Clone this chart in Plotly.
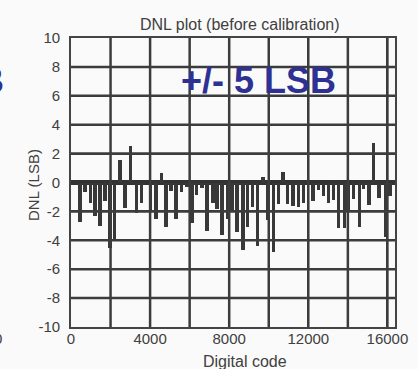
import plotly.graph_objects as go

# Digital code positions and DNL values (LSB)
codes = [456, 709, 1000, 1215, 1468, 1720, 1975, 2195, 2480, 2734, 3020, 3325, 3580,
         4030, 4300, 4590, 4810, 5050, 5316, 5600, 5860, 6110, 6360, 6620, 6870, 7180,
         7375, 7630, 7900, 8135, 8390, 8690, 8940, 9190, 9430, 9710, 9940, 10240, 10500,
         10720, 10960, 11230, 11510, 11760, 12240, 12520, 12780, 13030, 13280, 13540,
         13830, 14000, 14280, 14600, 14800, 15060, 15310, 15570, 15900, 16130]
dnl = [-2.7, -0.65, -1.4, -2.3, -3.0, -1.3, -4.5, -4.05, 1.55, -1.75, 2.5, -2.1, -1.4,
       -1.9, -2.5, 0.65, -3.05, -0.6, -2.5, -0.65, -0.3, -2.8, -0.85, -0.4, -3.35, -1.4,
       -1.8, -3.6, -2.5, -1.9, -3.4, -4.7, -3.1, -1.7, -4.4, 0.35, -2.6, -4.8, -1.5,
       0.7, -1.5, -1.6, -1.7, -1.45, -1.3, -0.5, -0.95, -1.45, -1.2, -3.15,
       -3.15, -1.9, -1.15, -3.1, -0.45, -1.55, 2.7, -1.05, -3.75, -0.9]

x_ticks = [0, 4000, 8000, 12000, 16000]
y_ticks = [-10, -8, -6, -4, -2, 0, 2, 4, 6, 8, 10]
x_grid = [2000, 4000, 6000, 8000, 10000, 12000, 14000, 16000]
y_grid = [-8, -6, -4, -2, 2, 4, 6, 8]
x_range = [0, 16384]
y_range = [-10, 10]

title_text = "DNL plot (before calibration)"
x_title = "Digital code"
y_title = "DNL (LSB)"
note_text = "+/- 5 LSB"

FONT = "Liberation Sans, Arial, sans-serif"
TXT = "#404040"
GRID = "#3c3c3c"

fig = go.Figure()

# grid lines as line traces through the axis scales
gx_pts, gy_pts = [], []
for gx in x_grid:
    gx_pts += [gx, gx, None]
    gy_pts += [y_range[0], y_range[1], None]
for gy in y_grid:
    gx_pts += [x_range[0], x_range[1], None]
    gy_pts += [gy, gy, None]
fig.add_trace(go.Scatter(x=gx_pts, y=gy_pts, mode="lines", hoverinfo="skip",
                         connectgaps=False, line=dict(color=GRID, width=2.5)))

fig.add_trace(go.Bar(x=codes, y=dnl, width=170,
                     marker=dict(color="#383838", line=dict(width=0))))

fig.update_layout(
    template="none",
    width=418, height=369,
    margin=dict(l=71, r=23, t=38, b=42),
    paper_bgcolor="#fafafa", plot_bgcolor="#fafafa",
    showlegend=False, bargap=0,
    font=dict(family=FONT, size=15, color=TXT),
)
fig.update_xaxes(
    range=x_range, tickmode="array", tickvals=x_ticks,
    ticktext=[str(v) for v in x_ticks],
    showgrid=True, gridcolor=GRID, gridwidth=2,
    zeroline=False,
    showline=True, mirror=True, linecolor="#444", linewidth=1.8,
    ticks="", ticklabelstandoff=-3,
    tickfont=dict(size=15, color=TXT),
)
fig.update_yaxes(
    range=y_range, tickmode="array", tickvals=y_ticks,
    ticktext=[str(v) for v in y_ticks],
    showgrid=True, gridcolor=GRID, gridwidth=2,
    zeroline=True, zerolinecolor="#333", zerolinewidth=5,
    showline=True, mirror=True, linecolor="#444", linewidth=1.8,
    ticks="", ticklabelstandoff=6,
    tickfont=dict(size=15, color=TXT),
)

def px(xp):
    return (xp - 71) / 324.0

def py(yp):
    return (327 - yp) / 289.0

anns = [
    dict(text=title_text, x=px(240), y=py(25), font=dict(size=16, color=TXT)),
    dict(text=x_title, x=px(245), y=py(361), font=dict(size=16, color=TXT)),
    dict(text=y_title, x=px(33), y=py(185), textangle=-90, font=dict(size=15, color=TXT)),
    dict(text="<b>" + note_text + "</b>", x=px(258), y=py(81),
         font=dict(size=36, color="#2e3192")),
    dict(text="<b>LSB</b>", x=px(6), y=py(81), xanchor="right",
         font=dict(size=36, color="#2e3192")),
    dict(text="0", x=px(4), y=py(338), xanchor="right", font=dict(size=15, color=TXT)),
]
for a in anns:
    a.setdefault("xanchor", "center")
    a.update(xref="paper", yref="paper", yanchor="middle", showarrow=False)
    fig.add_annotation(**a)

fig.write_html("out.html")
